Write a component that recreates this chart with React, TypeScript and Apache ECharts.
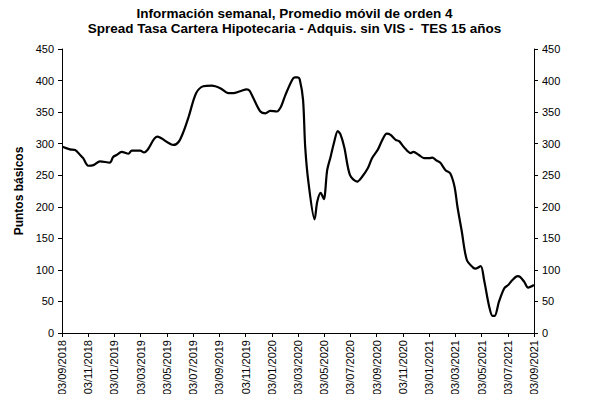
import React, { useEffect, useRef } from "react";
import * as echarts from "echarts";

const dates = [
  "2018-09-04", "2018-09-21", "2018-10-03", "2018-10-15", "2018-10-22", "2018-11-03", "2018-11-15", "2018-11-30",
  "2018-12-23", "2018-12-31", "2019-01-08", "2019-01-20", "2019-02-05", "2019-02-12", "2019-03-02", "2019-03-11",
  "2019-03-19", "2019-04-11", "2019-05-19", "2019-05-31", "2019-06-11", "2019-06-23", "2019-07-10", "2019-07-27",
  "2019-08-16", "2019-09-05", "2019-09-24", "2019-10-05", "2019-10-21", "2019-11-06", "2019-11-12", "2019-11-21",
  "2019-12-07", "2019-12-19", "2019-12-30", "2020-01-15", "2020-01-25", "2020-02-04", "2020-02-19", "2020-02-25",
  "2020-03-02", "2020-03-07", "2020-03-15", "2020-03-20", "2020-03-28", "2020-04-11", "2020-04-17", "2020-04-25",
  "2020-05-02", "2020-05-10", "2020-05-18", "2020-05-26", "2020-06-04", "2020-06-10", "2020-06-19", "2020-07-02",
  "2020-07-19", "2020-07-31", "2020-08-13", "2020-08-23", "2020-09-06", "2020-09-16", "2020-09-26", "2020-10-05",
  "2020-10-17", "2020-10-25", "2020-11-06", "2020-11-21", "2020-11-27", "2020-12-10", "2020-12-22", "2021-01-03",
  "2021-01-11", "2021-01-19", "2021-01-29", "2021-02-10", "2021-02-20", "2021-03-01", "2021-03-08", "2021-03-18",
  "2021-03-30", "2021-04-13", "2021-04-20", "2021-05-01", "2021-05-09", "2021-05-21", "2021-05-29", "2021-06-03",
  "2021-06-13", "2021-06-25", "2021-07-04", "2021-07-14", "2021-07-26", "2021-08-01", "2021-08-11", "2021-08-20",
  "2021-09-03",
];

const spread = [
  295, 291, 290, 282, 277, 265, 266, 272,
  270, 279, 282, 287, 284, 289, 289, 286,
  290, 311, 298, 303, 319, 343, 380, 391,
  392, 388, 380, 380, 383, 386, 384, 372,
  351, 348, 352, 351, 359, 377, 401, 405,
  405, 402, 369, 295, 237, 180, 208, 222,
  212, 258, 279, 301, 320, 315, 294, 250,
  240, 248, 261, 277, 291, 306, 316, 314,
  306, 304, 294, 285, 287, 282, 277, 277,
  278, 274, 270, 258, 253, 232, 200, 162,
  116, 104, 102, 106, 84, 42, 27, 27,
  50, 71, 76, 84, 90, 89, 81, 72,
  76,
];

const tickLabels = [
  "03/09/2018", "03/11/2018", "03/01/2019", "03/03/2019", "03/05/2019", "03/07/2019", "03/09/2019",
  "03/11/2019", "03/01/2020", "03/03/2020", "03/05/2020", "03/07/2020", "03/09/2020", "03/11/2020",
  "03/01/2021", "03/03/2021", "03/05/2021", "03/07/2021", "03/09/2021",
];

const title1 = "Información semanal, Promedio móvil de orden 4";
const title2 = "Spread Tasa Cartera Hipotecaria - Adquis. sin VIS -  TES 15 años";
const yName = "Puntos básicos";

function monthIndex(s: string): number {
  const [y, m, d] = s.split("-").map(Number);
  const dim = new Date(y, m, 0).getDate();
  return (y - 2018) * 12 + (m - 9) + (d - 3) / dim;
}

const FONT = "'Liberation Sans', Arial, sans-serif";

export default function App() {
  const ref = useRef<HTMLDivElement>(null);
  useEffect(() => {
    if (!ref.current) return;
    const chart = echarts.init(ref.current, undefined, { renderer: "svg" });
    const data = dates.map((d, i) => [monthIndex(d), spread[i]]);
    const yAxisCommon = {
      type: "value" as const,
      min: 0,
      max: 450,
      interval: 50,
      splitLine: { show: false },
      axisLine: { show: true, lineStyle: { color: "#000", width: 1 } },
      axisTick: { show: true, inside: false, length: 4, lineStyle: { color: "#000" } },
      axisLabel: { color: "#000", fontSize: 11, fontFamily: FONT, margin: 8 },
    };
    chart.setOption({
      animation: false,
      backgroundColor: "#fff",
      title: [
        {
          text: title1,
          left: "center",
          top: 1,
          textStyle: { fontSize: 13.5, fontWeight: "bold", color: "#000", fontFamily: FONT },
        },
        {
          text: title2,
          left: "center",
          top: 16,
          textStyle: { fontSize: 13.5, fontWeight: "bold", color: "#000", fontFamily: FONT },
        },
      ],
      grid: { left: 62, right: 55, top: 49, bottom: 69, containLabel: false },
      xAxis: {
        type: "value",
        min: 0,
        max: 36,
        interval: 2,
        splitLine: { show: false },
        axisLine: { show: true, onZero: false, lineStyle: { color: "#000", width: 1 } },
        axisTick: { show: true, inside: false, length: 4, lineStyle: { color: "#000" } },
        axisLabel: {
          rotate: 90,
          color: "#000",
          fontSize: 11,
          fontFamily: FONT,
          margin: 7,
          showMinLabel: true,
          showMaxLabel: true,
          formatter: (v: number) => tickLabels[Math.round(v / 2)] ?? "",
        },
      },
      yAxis: [
        {
          ...yAxisCommon,
          position: "left",
          name: yName,
          nameLocation: "middle",
          nameGap: 37,
          nameTextStyle: { fontSize: 12, fontWeight: "bold", color: "#000", fontFamily: FONT },
        },
        { ...yAxisCommon, position: "right" },
      ],
      series: [
        {
          type: "line",
          data,
          yAxisIndex: 0,
          showSymbol: false,
          smooth: 0.3,
          lineStyle: { color: "#000", width: 2.2 },
        },
      ],
    });
    return () => chart.dispose();
  }, []);
  return <div ref={ref} style={{ width: 589, height: 402, margin: -8 }} />;
}
